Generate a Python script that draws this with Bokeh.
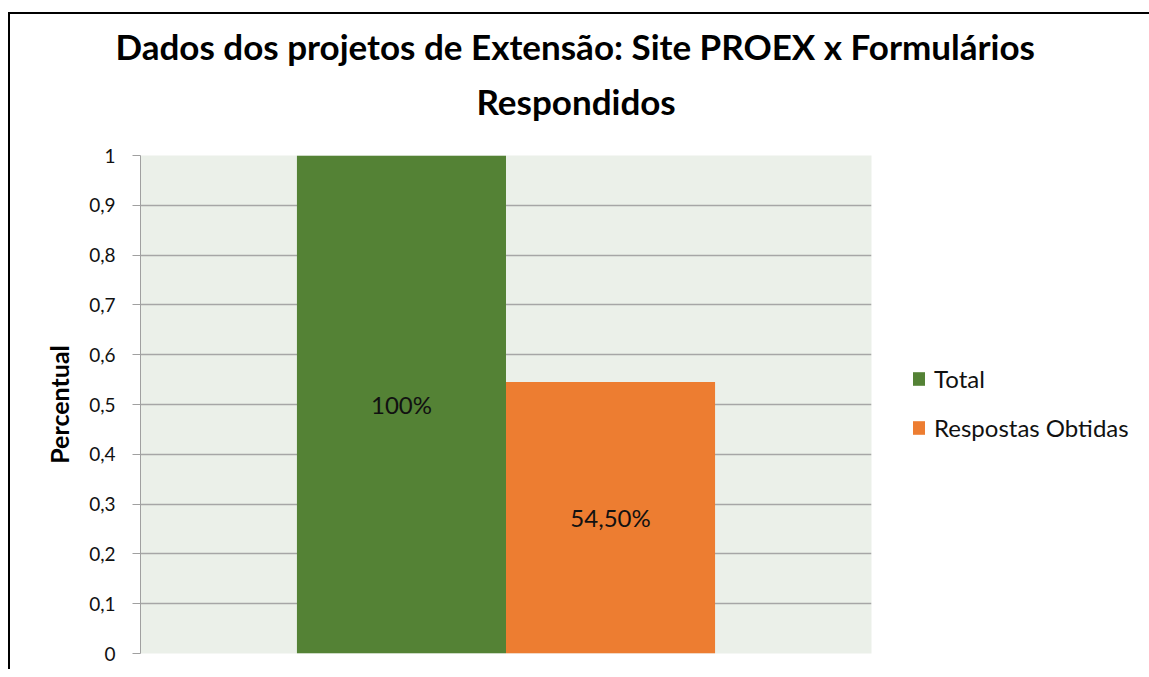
from bokeh.plotting import figure
from bokeh.models import (FactorRange, Range1d, Legend, LegendItem, Title, FixedTicker,
                          ColumnDataSource, LabelSet)
from bokeh.transform import dodge
from bokeh.core.properties import value
from bokeh.embed import file_html
from bokeh.resources import INLINE

# ---- data ----
group = ["Projetos"]
series_names = ["Total", "Respostas Obtidas"]
total_values = [1.0]
respostas_values = [0.545]
total_labels = ["100%"]
respostas_labels = ["54,50%"]
y_ticks = [0, 0.1, 0.2, 0.3, 0.4, 0.5, 0.6, 0.7, 0.8, 0.9, 1]
y_tick_labels = ["0", "0,1", "0,2", "0,3", "0,4", "0,5", "0,6", "0,7", "0,8", "0,9", "1"]
title_lines = ["Dados dos projetos de Extensão: Site PROEX x Formulários", "Respondidos"]
y_title = "Percentual"

GREEN = "#548235"
ORANGE = "#ED7D31"
FONT = "Lato"
BAR_W = 0.286

p = figure(x_range=FactorRange(factors=group), y_range=Range1d(0, 1),
           frame_width=731, frame_height=498, output_backend="svg", toolbar_location=None,
           min_border_left=130, min_border_right=269, min_border_top=141, min_border_bottom=16,
           background_fill_color="#EBF0E9", border_fill_color="white",
           outline_line_color=None, margin=(12, 0, 0, 8),
           styles={"border-left": "2px solid black", "border-top": "2px solid black"})

src_t = ColumnDataSource(dict(x=group, top=total_values, mid=[v / 2 for v in total_values], lab=total_labels))
src_r = ColumnDataSource(dict(x=group, top=respostas_values, mid=[v / 2 for v in respostas_values], lab=respostas_labels))

r1 = p.vbar(x=dodge("x", -BAR_W / 2, range=p.x_range), top="top", width=BAR_W, source=src_t,
            fill_color=GREEN, line_color=None)
r2 = p.vbar(x=dodge("x", BAR_W / 2, range=p.x_range), top="top", width=BAR_W, source=src_r,
            fill_color=ORANGE, line_color=None)

for src, off in ((src_t, -BAR_W / 2), (src_r, BAR_W / 2)):
    p.add_layout(LabelSet(x=dodge("x", off, range=p.x_range), y="mid", text="lab", source=src,
                          text_align="center", text_baseline="middle", text_font=value(FONT),
                          text_font_size="24px", text_color="#111111"))

# titles (bottom line added first so it sits next to the plot)
p.add_layout(Title(text=title_lines[1], align="left", offset=336, text_font=FONT,
                   text_font_size="35px", text_font_style="bold", text_color="black",
                   standoff=67), "above")
p.add_layout(Title(text=title_lines[0], align="left", offset=-25, text_font=FONT,
                   text_font_size="35px", text_font_style="bold", text_color="black",
                   standoff=-44), "above")

# axes
p.xaxis.visible = False

p.yaxis.ticker = FixedTicker(ticks=y_ticks)
p.yaxis.major_label_overrides = {t: l for t, l in zip(y_ticks, y_tick_labels)}
p.yaxis.major_label_text_font = FONT
p.yaxis.major_label_text_font_size = "19px"
p.yaxis.major_label_text_color = "#111111"
p.yaxis.major_label_standoff = 17
p.yaxis.major_tick_out = 8
p.yaxis.major_tick_in = 0
p.yaxis.minor_tick_line_color = None
p.yaxis.major_tick_line_color = "#A0A0A0"
p.yaxis.axis_line_color = "#A0A0A0"
p.yaxis.axis_label = y_title
p.yaxis.axis_label_text_font = FONT
p.yaxis.axis_label_text_font_size = "25px"
p.yaxis.axis_label_text_font_style = "bold"
p.yaxis.axis_label_text_color = "black"
p.yaxis.axis_label_standoff = 12

p.xgrid.grid_line_color = None
p.ygrid.grid_line_color = "#A6A6A6"
p.ygrid.grid_line_width = 1.5

legend = Legend(items=[LegendItem(label=series_names[0], renderers=[r1]),
                       LegendItem(label=series_names[1], renderers=[r2])],
                location=(40, 211), orientation="vertical",
                label_text_font=FONT, label_text_font_size="24px", label_text_color="#111111",
                glyph_width=15, glyph_height=17, label_height=17, spacing=20,
                padding=0, margin=0, border_line_color=None, background_fill_alpha=0,
                label_standoff=8)
p.add_layout(legend, "right")

open("out.html", "w").write(file_html(p, INLINE))
